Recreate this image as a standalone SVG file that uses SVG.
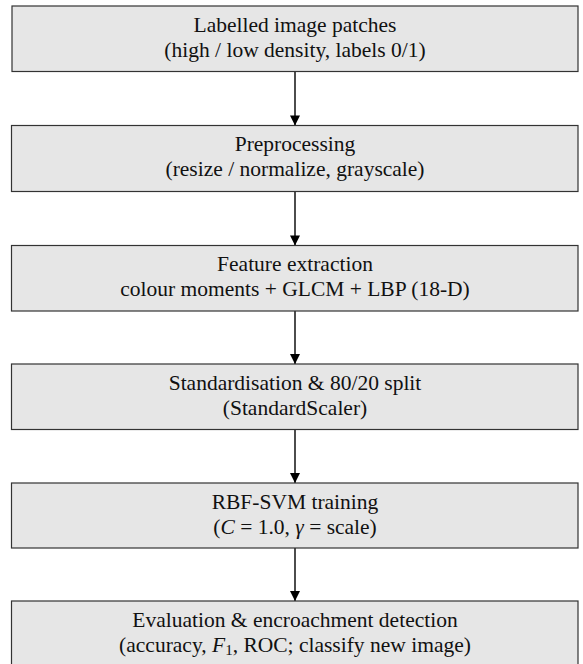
<svg xmlns="http://www.w3.org/2000/svg" width="583" height="664" viewBox="0 0 583 664">
<defs>
<style>
.box{fill:#e6e6e6;stroke:#333333;stroke-width:1.2}
.t{font-family:"Liberation Serif","Times New Roman",serif;font-size:21.5px;fill:#111111;text-anchor:middle}
.i{font-style:italic}
.con{stroke:#000000;stroke-width:1.4;fill:none;marker-end:url(#ah)}
</style>
<marker id="ah" viewBox="0 0 10 10" refX="10" refY="5" markerWidth="12" markerHeight="10" markerUnits="userSpaceOnUse" orient="auto">
<path d="M0,0 L10,5 L0,10 z" fill="#000000"/>
</marker>
</defs>
<rect width="583" height="664" fill="#ffffff"/>
<g id="connectors">
<line class="con" x1="295" y1="71.5" x2="295" y2="125.5"/>
<line class="con" x1="295" y1="191.5" x2="295" y2="245.5"/>
<line class="con" x1="295" y1="311" x2="295" y2="364"/>
<line class="con" x1="295" y1="429.5" x2="295" y2="483"/>
<line class="con" x1="295" y1="548" x2="295" y2="601"/>
</g>
<g id="n1">
<rect class="box" x="12" y="6" width="566" height="65.5"/>
<text class="t" x="295" y="31.5">Labelled image patches</text>
<text class="t" x="295" y="56.5">(high / low density, labels 0/1)</text>
</g>
<g id="n2">
<rect class="box" x="11.5" y="125.5" width="566.5" height="66"/>
<text class="t" x="295" y="151">Preprocessing</text>
<text class="t" x="295" y="176">(resize / normalize, grayscale)</text>
</g>
<g id="n3">
<rect class="box" x="11.5" y="245.5" width="566.5" height="65.5"/>
<text class="t" x="295" y="271">Feature extraction</text>
<text class="t" x="295" y="296">colour moments + GLCM + LBP (18-D)</text>
</g>
<g id="n4">
<rect class="box" x="11.5" y="364" width="566.5" height="65.5"/>
<text class="t" x="295" y="389.5">Standardisation &amp; 80/20 split</text>
<text class="t" x="295" y="414.5">(StandardScaler)</text>
</g>
<g id="n5">
<rect class="box" x="11.5" y="483" width="566.5" height="65"/>
<text class="t" x="295" y="508.5">RBF-SVM training</text>
<text class="t" x="295" y="533.5">(<tspan class="i">C</tspan> = 1.0, <tspan class="i">γ</tspan> = scale)</text>
</g>
<g id="n6">
<rect class="box" x="11.5" y="601" width="566.5" height="66"/>
<text class="t" x="295" y="626.5">Evaluation &amp; encroachment detection</text>
<text class="t" x="295" y="651.5">(accuracy, <tspan class="i">F</tspan><tspan font-size="15" dy="3">1</tspan><tspan dy="-3">, ROC; classify new image)</tspan></text>
</g>
</svg>
